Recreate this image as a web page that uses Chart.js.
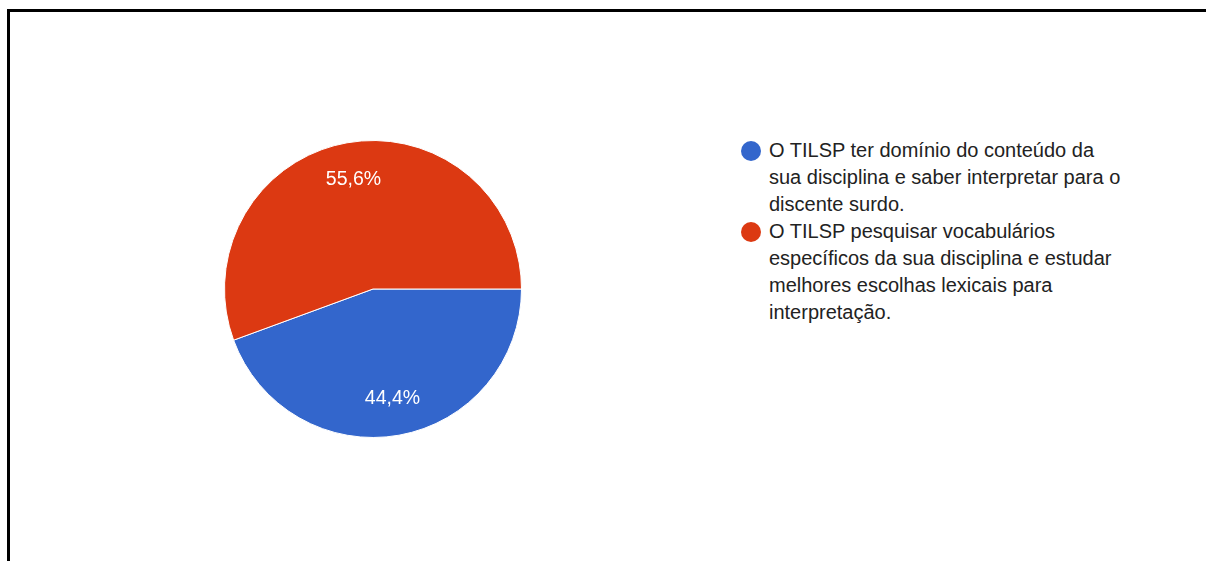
<!DOCTYPE html>
<html>
<head>
<meta charset="utf-8">
<script src="https://cdn.jsdelivr.net/npm/chart.js@4/dist/chart.umd.min.js"></script>
<style>
  html, body { margin: 0; background: #fff; font-family: "Liberation Sans", Arial, sans-serif; overflow: hidden; }
  #page { position: relative; width: 1206px; height: 561px; overflow: hidden; }
  #lineTop { position: absolute; left: 7px; top: 9px; width: 1199px; height: 3px; background: #000; }
  #lineLeft { position: absolute; left: 7px; top: 9px; width: 3px; height: 552px; background: #000; }
  #pieBox { position: absolute; left: 220px; top: 136px; width: 306px; height: 306px; }
  #legend { position: absolute; left: 741px; top: 138px; width: 440px; }
  .item { display: flex; align-items: flex-start; margin-bottom: 2px; }
  .dot { width: 20px; height: 20px; border-radius: 50%; margin-top: 3px; margin-right: 8px; flex: none; }
  .txt { font-size: 20px; line-height: 26.8px; color: #222; margin-top: -1px; width: 356px; }
</style>
</head>
<body>
<div id="page">
  <div id="lineTop"></div>
  <div id="lineLeft"></div>
  <div id="pieBox"><canvas id="myChart"></canvas></div>
  <div id="legend"></div>
</div>
<script>
const answers = [
  'O TILSP ter domínio do conteúdo da sua disciplina e saber interpretar para o discente surdo.',
  'O TILSP pesquisar vocabulários específicos da sua disciplina e estudar melhores escolhas lexicais para interpretação.'
];
const percents = [44.4, 55.6];
const colors = ['#3366cc', '#dc3912'];

// legend with wrapped text
const legendEl = document.getElementById('legend');
answers.forEach((a, i) => {
  const row = document.createElement('div');
  row.className = 'item';
  row.innerHTML = '<span class="dot" style="background:' + colors[i] + '"></span><span class="txt">' + a + '</span>';
  legendEl.appendChild(row);
});

// percentage labels inside the slices
const sliceLabels = {
  id: 'sliceLabels',
  afterDatasetsDraw(chart) {
    const ctx = chart.ctx;
    const meta = chart.getDatasetMeta(0);
    ctx.save();
    ctx.fillStyle = '#fff';
    ctx.font = '19.5px "Liberation Sans", Arial, sans-serif';
    ctx.textAlign = 'center';
    ctx.textBaseline = 'middle';
    meta.data.forEach((arc, i) => {
      const p = arc.getProps(['x', 'y', 'startAngle', 'endAngle', 'outerRadius'], true);
      const mid = (p.startAngle + p.endAngle) / 2;
      const r = p.outerRadius * 0.75;
      const text = percents[i].toFixed(1).replace('.', ',') + '%';
      ctx.fillText(text, p.x + Math.cos(mid) * r, p.y + Math.sin(mid) * r);
    });
    ctx.restore();
  }
};

const config = {
  type: 'pie',
  data: {
    labels: answers,
    datasets: [{
      data: percents,
      backgroundColor: colors,
      borderColor: '#fff',
      borderWidth: 1
    }]
  },
  options: {
    responsive: true,
    maintainAspectRatio: false,
    animation: false,
    rotation: 90,
    layout: { padding: 4 },
    plugins: {
      legend: { display: false },
      tooltip: { enabled: false }
    }
  },
  plugins: [sliceLabels]
};

const myChart = new Chart(document.getElementById('myChart'), config);
</script>
</body>
</html>
